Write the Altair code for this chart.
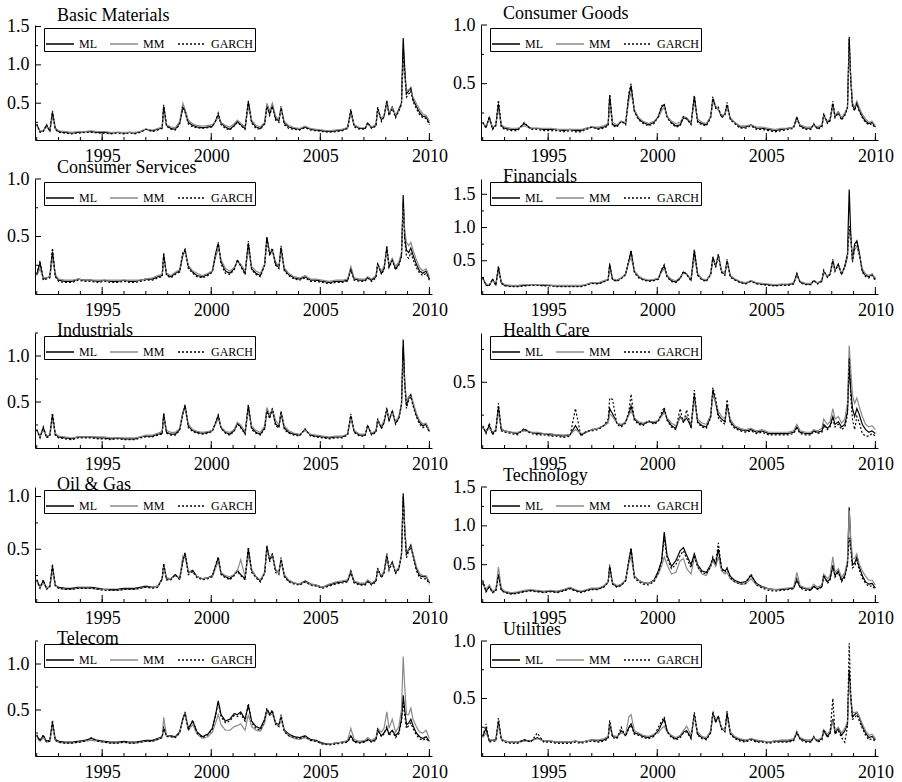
import altair as alt
import pandas as pd

# ---------------- data ----------------
T = [1992.0, 1992.15, 1992.3, 1992.45, 1992.6, 1992.72, 1992.85,
     1993.0, 1993.3, 1993.6, 1993.9,
     1994.2, 1994.5, 1994.8,
     1995.1, 1995.4, 1995.7,
     1996.0, 1996.25, 1996.5, 1996.75,
     1997.0, 1997.3, 1997.55, 1997.75, 1997.82, 1997.95,
     1998.15, 1998.35, 1998.55, 1998.7, 1998.8, 1998.95,
     1999.15, 1999.35, 1999.6, 1999.85,
     2000.05, 2000.2, 2000.32, 2000.45, 2000.65, 2000.85,
     2001.05, 2001.2, 2001.35, 2001.55, 2001.7, 2001.85,
     2002.05, 2002.25, 2002.45, 2002.55, 2002.68, 2002.8, 2002.95,
     2003.1, 2003.2, 2003.35, 2003.55, 2003.8,
     2004.05, 2004.3, 2004.55, 2004.8,
     2005.1, 2005.4, 2005.7,
     2006.0, 2006.25, 2006.4, 2006.55, 2006.8,
     2007.05, 2007.17, 2007.35, 2007.55, 2007.63, 2007.8, 2007.92,
     2008.05, 2008.15, 2008.3, 2008.45, 2008.6, 2008.72, 2008.8, 2008.87, 2008.95,
     2009.05, 2009.15, 2009.25, 2009.4, 2009.55, 2009.7, 2009.85,
     2010.0]

SERIES = ["ML", "MM", "GARCH"]
YEARS = list(range(1992, 2011))
X_MAJOR = [1995, 2000, 2005, 2010]
Y_MAJOR = [0.5, 1.0, 1.5]
Y_MINOR = [0.25, 0.75, 1.25]

BM_ML = [0.22, 0.13, 0.14, 0.21, 0.14, 0.38, 0.17, 0.13, 0.12, 0.11, 0.12,
         0.13, 0.13, 0.12, 0.12, 0.11, 0.12, 0.11, 0.12, 0.11, 0.13,
         0.16, 0.14, 0.16, 0.18, 0.46, 0.21, 0.17, 0.16, 0.24, 0.44, 0.40, 0.25,
         0.21, 0.19, 0.18, 0.19, 0.20, 0.27, 0.35, 0.24, 0.19, 0.16,
         0.21, 0.26, 0.22, 0.17, 0.52, 0.26, 0.19, 0.17, 0.24, 0.47, 0.36, 0.48, 0.30,
         0.27, 0.44, 0.24, 0.19, 0.17, 0.16, 0.19, 0.16, 0.15, 0.14, 0.13, 0.14,
         0.15, 0.18, 0.40, 0.21, 0.17, 0.17, 0.24, 0.18, 0.21, 0.43, 0.28, 0.33,
         0.52, 0.36, 0.45, 0.33, 0.42, 0.50, 1.35, 0.95, 0.62,
         0.66, 0.70, 0.55, 0.46, 0.38, 0.33, 0.32, 0.24]
BM_MM = [0.20, 0.14, 0.14, 0.19, 0.15, 0.32, 0.18, 0.14, 0.13, 0.12, 0.13,
         0.13, 0.14, 0.13, 0.13, 0.12, 0.12, 0.12, 0.12, 0.12, 0.13,
         0.16, 0.15, 0.17, 0.19, 0.38, 0.22, 0.19, 0.18, 0.26, 0.50, 0.42, 0.28,
         0.23, 0.21, 0.20, 0.21, 0.22, 0.26, 0.32, 0.25, 0.21, 0.19,
         0.23, 0.28, 0.24, 0.19, 0.45, 0.28, 0.21, 0.19, 0.25, 0.50, 0.40, 0.50, 0.33,
         0.29, 0.42, 0.26, 0.21, 0.18, 0.17, 0.20, 0.17, 0.16, 0.15, 0.14, 0.15,
         0.16, 0.18, 0.36, 0.22, 0.18, 0.18, 0.24, 0.19, 0.22, 0.40, 0.30, 0.34,
         0.48, 0.38, 0.44, 0.35, 0.40, 0.48, 1.05, 0.85, 0.66,
         0.68, 0.66, 0.58, 0.50, 0.42, 0.36, 0.34, 0.27]
BM_GA = [0.23, 0.12, 0.13, 0.22, 0.13, 0.40, 0.16, 0.12, 0.11, 0.10, 0.11,
         0.12, 0.12, 0.11, 0.11, 0.10, 0.11, 0.10, 0.11, 0.10, 0.12,
         0.16, 0.13, 0.15, 0.17, 0.48, 0.20, 0.16, 0.15, 0.22, 0.46, 0.38, 0.23,
         0.19, 0.18, 0.17, 0.18, 0.19, 0.27, 0.37, 0.22, 0.17, 0.15,
         0.20, 0.25, 0.21, 0.16, 0.53, 0.24, 0.17, 0.16, 0.23, 0.46, 0.34, 0.46, 0.28,
         0.25, 0.46, 0.22, 0.17, 0.16, 0.15, 0.18, 0.15, 0.14, 0.13, 0.12, 0.13,
         0.14, 0.17, 0.42, 0.19, 0.16, 0.16, 0.25, 0.17, 0.20, 0.45, 0.26, 0.32,
         0.54, 0.34, 0.43, 0.31, 0.40, 0.48, 1.22, 0.90, 0.58,
         0.62, 0.66, 0.52, 0.43, 0.35, 0.31, 0.30, 0.22]

CG_ML = [0.17, 0.13, 0.21, 0.12, 0.15, 0.33, 0.14, 0.12, 0.11, 0.11, 0.16,
         0.12, 0.12, 0.11, 0.11, 0.11, 0.10, 0.11, 0.10, 0.10, 0.12,
         0.13, 0.12, 0.13, 0.15, 0.40, 0.15, 0.14, 0.18, 0.16, 0.40, 0.48, 0.27,
         0.20, 0.17, 0.15, 0.17, 0.22, 0.30, 0.32, 0.22, 0.17, 0.14,
         0.15, 0.21, 0.20, 0.16, 0.39, 0.18, 0.16, 0.15, 0.22, 0.37, 0.30, 0.28, 0.22,
         0.24, 0.32, 0.20, 0.17, 0.13, 0.13, 0.15, 0.12, 0.12, 0.11, 0.10, 0.11,
         0.12, 0.13, 0.21, 0.14, 0.12, 0.12, 0.15, 0.12, 0.14, 0.23, 0.17, 0.19,
         0.33, 0.22, 0.26, 0.20, 0.24, 0.30, 0.88, 0.55, 0.32,
         0.28, 0.34, 0.28, 0.22, 0.18, 0.16, 0.17, 0.13]
CG_MM = [0.16, 0.14, 0.19, 0.13, 0.15, 0.28, 0.15, 0.13, 0.12, 0.12, 0.14,
         0.12, 0.12, 0.12, 0.12, 0.11, 0.11, 0.11, 0.11, 0.11, 0.12,
         0.13, 0.13, 0.14, 0.16, 0.33, 0.17, 0.15, 0.18, 0.17, 0.36, 0.42, 0.28,
         0.21, 0.18, 0.16, 0.18, 0.21, 0.27, 0.30, 0.22, 0.18, 0.16,
         0.17, 0.22, 0.21, 0.17, 0.34, 0.20, 0.17, 0.16, 0.22, 0.34, 0.31, 0.28, 0.23,
         0.24, 0.29, 0.21, 0.17, 0.14, 0.14, 0.15, 0.13, 0.13, 0.12, 0.11, 0.12,
         0.12, 0.13, 0.19, 0.15, 0.13, 0.13, 0.15, 0.13, 0.15, 0.22, 0.18, 0.20,
         0.30, 0.23, 0.26, 0.21, 0.25, 0.30, 0.78, 0.56, 0.34,
         0.30, 0.35, 0.30, 0.24, 0.20, 0.17, 0.18, 0.14]
CG_GA = [0.17, 0.12, 0.22, 0.11, 0.14, 0.36, 0.13, 0.11, 0.10, 0.10, 0.17,
         0.11, 0.11, 0.10, 0.10, 0.10, 0.09, 0.10, 0.09, 0.09, 0.11,
         0.13, 0.11, 0.12, 0.14, 0.41, 0.14, 0.13, 0.18, 0.15, 0.42, 0.50, 0.26,
         0.19, 0.16, 0.14, 0.16, 0.22, 0.31, 0.33, 0.21, 0.16, 0.13,
         0.14, 0.22, 0.20, 0.15, 0.40, 0.17, 0.15, 0.14, 0.21, 0.39, 0.29, 0.30, 0.21,
         0.23, 0.34, 0.19, 0.16, 0.12, 0.12, 0.14, 0.11, 0.11, 0.10, 0.09, 0.10,
         0.11, 0.12, 0.22, 0.13, 0.11, 0.11, 0.16, 0.11, 0.13, 0.25, 0.16, 0.18,
         0.35, 0.21, 0.25, 0.19, 0.23, 0.29, 0.90, 0.52, 0.30,
         0.27, 0.33, 0.27, 0.21, 0.17, 0.15, 0.16, 0.12]

CS_ML = [0.17, 0.27, 0.13, 0.14, 0.15, 0.37, 0.16, 0.12, 0.11, 0.11, 0.13,
         0.12, 0.12, 0.11, 0.12, 0.11, 0.11, 0.12, 0.11, 0.11, 0.12,
         0.13, 0.13, 0.15, 0.16, 0.34, 0.17, 0.15, 0.18, 0.20, 0.34, 0.38, 0.24,
         0.19, 0.16, 0.15, 0.17, 0.20, 0.35, 0.44, 0.28, 0.20, 0.18,
         0.22, 0.29, 0.25, 0.18, 0.44, 0.22, 0.18, 0.16, 0.26, 0.49, 0.35, 0.38, 0.26,
         0.23, 0.40, 0.21, 0.17, 0.14, 0.13, 0.15, 0.12, 0.12, 0.11, 0.10, 0.11,
         0.11, 0.12, 0.22, 0.13, 0.12, 0.12, 0.14, 0.12, 0.15, 0.26, 0.18, 0.22,
         0.40, 0.24, 0.30, 0.22, 0.26, 0.34, 0.86, 0.50, 0.38,
         0.36, 0.40, 0.34, 0.26, 0.20, 0.18, 0.20, 0.13]
CS_MM = [0.16, 0.22, 0.14, 0.14, 0.15, 0.31, 0.17, 0.13, 0.12, 0.12, 0.13,
         0.12, 0.12, 0.12, 0.12, 0.12, 0.12, 0.12, 0.12, 0.12, 0.12,
         0.13, 0.14, 0.16, 0.17, 0.29, 0.18, 0.16, 0.19, 0.21, 0.36, 0.36, 0.25,
         0.20, 0.18, 0.16, 0.18, 0.20, 0.32, 0.40, 0.30, 0.22, 0.20,
         0.23, 0.28, 0.26, 0.20, 0.38, 0.24, 0.20, 0.18, 0.26, 0.44, 0.37, 0.38, 0.28,
         0.24, 0.36, 0.23, 0.18, 0.15, 0.14, 0.16, 0.13, 0.13, 0.12, 0.11, 0.12,
         0.12, 0.13, 0.24, 0.14, 0.13, 0.13, 0.15, 0.13, 0.16, 0.25, 0.20, 0.24,
         0.36, 0.26, 0.31, 0.24, 0.28, 0.36, 0.75, 0.55, 0.45,
         0.42, 0.45, 0.38, 0.30, 0.23, 0.20, 0.22, 0.15]
CS_GA = [0.17, 0.29, 0.12, 0.13, 0.14, 0.40, 0.15, 0.11, 0.10, 0.10, 0.12,
         0.11, 0.11, 0.10, 0.11, 0.10, 0.10, 0.11, 0.10, 0.10, 0.11,
         0.12, 0.12, 0.14, 0.15, 0.36, 0.16, 0.14, 0.17, 0.19, 0.36, 0.39, 0.22,
         0.18, 0.15, 0.14, 0.16, 0.19, 0.34, 0.45, 0.26, 0.18, 0.17,
         0.21, 0.30, 0.24, 0.17, 0.46, 0.21, 0.17, 0.15, 0.25, 0.50, 0.33, 0.40, 0.25,
         0.22, 0.42, 0.20, 0.16, 0.13, 0.12, 0.14, 0.11, 0.11, 0.10, 0.09, 0.10,
         0.10, 0.11, 0.21, 0.12, 0.11, 0.11, 0.14, 0.11, 0.14, 0.27, 0.17, 0.21,
         0.42, 0.23, 0.29, 0.21, 0.25, 0.32, 0.80, 0.46, 0.33,
         0.31, 0.36, 0.30, 0.23, 0.18, 0.16, 0.18, 0.12]

FI_ML = [0.24, 0.14, 0.13, 0.22, 0.14, 0.40, 0.17, 0.13, 0.12, 0.12, 0.13,
         0.14, 0.14, 0.13, 0.13, 0.12, 0.12, 0.12, 0.12, 0.12, 0.14,
         0.17, 0.16, 0.19, 0.22, 0.44, 0.22, 0.20, 0.24, 0.30, 0.50, 0.64, 0.34,
         0.26, 0.22, 0.20, 0.21, 0.23, 0.36, 0.42, 0.27, 0.20, 0.18,
         0.24, 0.33, 0.30, 0.21, 0.65, 0.30, 0.22, 0.20, 0.30, 0.55, 0.42, 0.58, 0.34,
         0.30, 0.50, 0.27, 0.22, 0.18, 0.16, 0.20, 0.16, 0.15, 0.14, 0.13, 0.14,
         0.14, 0.16, 0.30, 0.18, 0.15, 0.15, 0.20, 0.16, 0.20, 0.34, 0.26, 0.30,
         0.50, 0.36, 0.45, 0.30, 0.42, 0.60, 1.57, 0.90, 0.50,
         0.75, 0.80, 0.65, 0.35, 0.28, 0.26, 0.30, 0.22]
FI_MM = [0.22, 0.15, 0.14, 0.20, 0.15, 0.34, 0.18, 0.14, 0.13, 0.13, 0.14,
         0.14, 0.14, 0.14, 0.13, 0.13, 0.13, 0.13, 0.13, 0.13, 0.14,
         0.17, 0.17, 0.20, 0.22, 0.38, 0.23, 0.21, 0.24, 0.30, 0.48, 0.55, 0.35,
         0.27, 0.23, 0.21, 0.22, 0.24, 0.33, 0.38, 0.28, 0.22, 0.20,
         0.25, 0.31, 0.30, 0.22, 0.55, 0.31, 0.23, 0.21, 0.30, 0.50, 0.44, 0.55, 0.35,
         0.31, 0.46, 0.28, 0.23, 0.19, 0.17, 0.20, 0.17, 0.16, 0.15, 0.14, 0.15,
         0.15, 0.17, 0.27, 0.19, 0.16, 0.16, 0.20, 0.17, 0.21, 0.32, 0.27, 0.31,
         0.45, 0.37, 0.42, 0.31, 0.40, 0.55, 0.95, 0.82, 0.50,
         0.66, 0.72, 0.60, 0.38, 0.30, 0.28, 0.30, 0.24]
FI_GA = [0.24, 0.13, 0.12, 0.23, 0.13, 0.42, 0.16, 0.12, 0.11, 0.11, 0.12,
         0.13, 0.13, 0.12, 0.12, 0.11, 0.11, 0.11, 0.11, 0.11, 0.13,
         0.16, 0.15, 0.18, 0.21, 0.46, 0.21, 0.19, 0.23, 0.29, 0.52, 0.66, 0.32,
         0.24, 0.21, 0.19, 0.20, 0.22, 0.37, 0.44, 0.25, 0.19, 0.17,
         0.23, 0.34, 0.29, 0.20, 0.67, 0.28, 0.21, 0.19, 0.29, 0.56, 0.40, 0.60, 0.32,
         0.28, 0.52, 0.25, 0.21, 0.17, 0.15, 0.19, 0.15, 0.14, 0.13, 0.12, 0.13,
         0.13, 0.15, 0.31, 0.17, 0.14, 0.14, 0.21, 0.15, 0.19, 0.36, 0.25, 0.29,
         0.52, 0.34, 0.44, 0.29, 0.41, 0.58, 1.02, 0.88, 0.48,
         0.72, 0.78, 0.62, 0.33, 0.26, 0.24, 0.28, 0.20]

IN_ML = [0.20, 0.12, 0.22, 0.12, 0.14, 0.36, 0.15, 0.12, 0.11, 0.10, 0.12,
         0.12, 0.12, 0.11, 0.11, 0.10, 0.11, 0.10, 0.10, 0.10, 0.12,
         0.13, 0.13, 0.15, 0.16, 0.37, 0.17, 0.15, 0.15, 0.20, 0.38, 0.46, 0.24,
         0.19, 0.17, 0.16, 0.17, 0.19, 0.27, 0.35, 0.22, 0.17, 0.15,
         0.19, 0.27, 0.23, 0.16, 0.46, 0.22, 0.17, 0.15, 0.22, 0.42, 0.34, 0.42, 0.26,
         0.23, 0.38, 0.22, 0.17, 0.15, 0.14, 0.20, 0.14, 0.13, 0.12, 0.11, 0.12,
         0.12, 0.15, 0.35, 0.18, 0.14, 0.14, 0.24, 0.15, 0.18, 0.30, 0.22, 0.28,
         0.42, 0.30, 0.40, 0.27, 0.33, 0.48, 1.18, 0.72, 0.46,
         0.55, 0.58, 0.48, 0.36, 0.28, 0.24, 0.26, 0.18]
IN_MM = [0.19, 0.13, 0.19, 0.13, 0.14, 0.31, 0.16, 0.13, 0.12, 0.11, 0.12,
         0.12, 0.12, 0.12, 0.12, 0.11, 0.11, 0.11, 0.11, 0.11, 0.12,
         0.14, 0.14, 0.16, 0.18, 0.32, 0.19, 0.17, 0.17, 0.21, 0.40, 0.42, 0.26,
         0.20, 0.18, 0.17, 0.18, 0.19, 0.26, 0.32, 0.23, 0.18, 0.17,
         0.20, 0.28, 0.25, 0.18, 0.40, 0.24, 0.19, 0.17, 0.24, 0.44, 0.36, 0.42, 0.30,
         0.25, 0.40, 0.24, 0.19, 0.16, 0.15, 0.19, 0.15, 0.14, 0.13, 0.12, 0.13,
         0.13, 0.15, 0.32, 0.19, 0.15, 0.15, 0.23, 0.16, 0.19, 0.29, 0.24, 0.30,
         0.40, 0.32, 0.38, 0.29, 0.34, 0.46, 0.95, 0.70, 0.50,
         0.56, 0.56, 0.50, 0.38, 0.30, 0.26, 0.27, 0.19]
IN_GA = [0.20, 0.11, 0.23, 0.11, 0.13, 0.38, 0.14, 0.11, 0.10, 0.09, 0.11,
         0.11, 0.11, 0.10, 0.10, 0.09, 0.10, 0.09, 0.09, 0.09, 0.11,
         0.12, 0.12, 0.14, 0.15, 0.38, 0.16, 0.14, 0.14, 0.19, 0.37, 0.47, 0.22,
         0.18, 0.16, 0.15, 0.16, 0.18, 0.28, 0.36, 0.21, 0.16, 0.14,
         0.18, 0.26, 0.22, 0.15, 0.47, 0.20, 0.16, 0.14, 0.21, 0.40, 0.32, 0.43, 0.24,
         0.22, 0.40, 0.20, 0.16, 0.14, 0.13, 0.21, 0.13, 0.12, 0.11, 0.10, 0.11,
         0.11, 0.14, 0.37, 0.17, 0.13, 0.13, 0.25, 0.14, 0.17, 0.32, 0.21, 0.27,
         0.44, 0.29, 0.41, 0.26, 0.32, 0.46, 1.10, 0.68, 0.43,
         0.52, 0.56, 0.46, 0.34, 0.26, 0.22, 0.24, 0.17]

HC_ML = [0.16, 0.12, 0.17, 0.11, 0.14, 0.31, 0.14, 0.13, 0.12, 0.11, 0.14,
         0.12, 0.11, 0.11, 0.10, 0.10, 0.09, 0.10, 0.17, 0.10, 0.12,
         0.14, 0.15, 0.17, 0.20, 0.30, 0.26, 0.19, 0.17, 0.20, 0.26, 0.32, 0.22,
         0.19, 0.18, 0.20, 0.19, 0.21, 0.25, 0.29, 0.22, 0.17, 0.15,
         0.24, 0.20, 0.23, 0.16, 0.40, 0.20, 0.17, 0.16, 0.24, 0.44, 0.34, 0.25, 0.22,
         0.20, 0.33, 0.20, 0.16, 0.14, 0.13, 0.14, 0.12, 0.13, 0.11, 0.11, 0.11,
         0.11, 0.12, 0.16, 0.12, 0.11, 0.11, 0.13, 0.12, 0.13, 0.18, 0.15, 0.17,
         0.24, 0.18, 0.20, 0.16, 0.18, 0.28, 0.62, 0.45, 0.30,
         0.24, 0.30, 0.26, 0.18, 0.14, 0.12, 0.13, 0.11]
HC_MM = [0.15, 0.13, 0.15, 0.12, 0.14, 0.27, 0.15, 0.13, 0.12, 0.12, 0.13,
         0.12, 0.12, 0.11, 0.11, 0.10, 0.10, 0.10, 0.14, 0.11, 0.12,
         0.14, 0.15, 0.17, 0.19, 0.26, 0.24, 0.19, 0.18, 0.20, 0.25, 0.28, 0.23,
         0.20, 0.19, 0.20, 0.20, 0.21, 0.24, 0.27, 0.23, 0.19, 0.17,
         0.23, 0.21, 0.24, 0.18, 0.36, 0.22, 0.19, 0.18, 0.25, 0.40, 0.35, 0.28, 0.24,
         0.22, 0.30, 0.22, 0.17, 0.15, 0.14, 0.15, 0.13, 0.14, 0.12, 0.12, 0.12,
         0.12, 0.13, 0.18, 0.13, 0.12, 0.12, 0.14, 0.13, 0.15, 0.22, 0.18, 0.20,
         0.30, 0.22, 0.24, 0.19, 0.22, 0.34, 0.78, 0.60, 0.40,
         0.34, 0.38, 0.32, 0.24, 0.18, 0.16, 0.17, 0.14]
HC_GA = [0.17, 0.11, 0.19, 0.10, 0.13, 0.34, 0.13, 0.12, 0.11, 0.10, 0.15,
         0.11, 0.10, 0.10, 0.09, 0.09, 0.08, 0.09, 0.30, 0.09, 0.13,
         0.13, 0.14, 0.17, 0.22, 0.38, 0.37, 0.18, 0.16, 0.19, 0.28, 0.41, 0.21,
         0.18, 0.17, 0.21, 0.18, 0.20, 0.27, 0.31, 0.21, 0.16, 0.14,
         0.30, 0.19, 0.29, 0.15, 0.44, 0.19, 0.16, 0.15, 0.23, 0.46, 0.38, 0.23, 0.20,
         0.18, 0.37, 0.19, 0.15, 0.13, 0.12, 0.13, 0.11, 0.12, 0.10, 0.10, 0.10,
         0.10, 0.11, 0.15, 0.11, 0.10, 0.10, 0.13, 0.11, 0.12, 0.17, 0.14, 0.16,
         0.22, 0.16, 0.18, 0.14, 0.16, 0.25, 0.68, 0.40, 0.22,
         0.14, 0.24, 0.20, 0.11, 0.09, 0.09, 0.11, 0.09]

OG_ML = [0.21, 0.14, 0.20, 0.13, 0.15, 0.33, 0.16, 0.14, 0.13, 0.13, 0.14,
         0.14, 0.14, 0.13, 0.12, 0.12, 0.12, 0.13, 0.13, 0.13, 0.14,
         0.15, 0.14, 0.15, 0.22, 0.35, 0.22, 0.22, 0.26, 0.22, 0.40, 0.46, 0.28,
         0.30, 0.24, 0.22, 0.23, 0.25, 0.34, 0.42, 0.27, 0.24, 0.22,
         0.26, 0.30, 0.26, 0.22, 0.50, 0.30, 0.24, 0.20, 0.28, 0.52, 0.40, 0.45, 0.30,
         0.28, 0.40, 0.25, 0.20, 0.18, 0.17, 0.20, 0.17, 0.16, 0.14, 0.16, 0.18,
         0.19, 0.20, 0.28, 0.19, 0.17, 0.17, 0.20, 0.17, 0.20, 0.31, 0.24, 0.28,
         0.44, 0.32, 0.38, 0.28, 0.32, 0.45, 1.03, 0.70, 0.45,
         0.50, 0.54, 0.45, 0.32, 0.25, 0.24, 0.24, 0.18]
OG_MM = [0.19, 0.14, 0.18, 0.13, 0.15, 0.29, 0.16, 0.13, 0.12, 0.12, 0.13,
         0.13, 0.13, 0.12, 0.12, 0.11, 0.11, 0.12, 0.12, 0.12, 0.13,
         0.14, 0.14, 0.15, 0.21, 0.33, 0.23, 0.22, 0.25, 0.22, 0.44, 0.42, 0.29,
         0.28, 0.24, 0.22, 0.23, 0.24, 0.32, 0.38, 0.28, 0.25, 0.24,
         0.26, 0.30, 0.40, 0.24, 0.44, 0.31, 0.24, 0.21, 0.28, 0.48, 0.42, 0.44, 0.31,
         0.28, 0.38, 0.26, 0.21, 0.18, 0.17, 0.19, 0.17, 0.16, 0.14, 0.17, 0.19,
         0.20, 0.21, 0.30, 0.20, 0.18, 0.18, 0.21, 0.18, 0.21, 0.30, 0.25, 0.29,
         0.40, 0.33, 0.37, 0.29, 0.33, 0.44, 0.90, 0.72, 0.48,
         0.50, 0.52, 0.46, 0.34, 0.27, 0.25, 0.25, 0.19]
OG_GA = [0.21, 0.13, 0.21, 0.12, 0.14, 0.36, 0.15, 0.13, 0.12, 0.12, 0.13,
         0.13, 0.13, 0.12, 0.11, 0.11, 0.11, 0.12, 0.12, 0.12, 0.13,
         0.14, 0.13, 0.14, 0.22, 0.37, 0.21, 0.21, 0.26, 0.21, 0.38, 0.47, 0.26,
         0.29, 0.23, 0.21, 0.22, 0.24, 0.35, 0.43, 0.26, 0.23, 0.21,
         0.25, 0.29, 0.25, 0.21, 0.52, 0.28, 0.23, 0.19, 0.27, 0.54, 0.38, 0.46, 0.28,
         0.26, 0.42, 0.24, 0.19, 0.17, 0.16, 0.19, 0.16, 0.15, 0.13, 0.15, 0.17,
         0.18, 0.19, 0.29, 0.18, 0.16, 0.16, 0.19, 0.16, 0.19, 0.32, 0.23, 0.27,
         0.46, 0.30, 0.37, 0.27, 0.31, 0.44, 1.00, 0.66, 0.42,
         0.48, 0.52, 0.43, 0.30, 0.23, 0.22, 0.22, 0.17]

TE_ML = [0.28, 0.16, 0.22, 0.15, 0.17, 0.38, 0.18, 0.15, 0.13, 0.14, 0.16,
         0.17, 0.16, 0.15, 0.16, 0.15, 0.17, 0.20, 0.17, 0.15, 0.17,
         0.19, 0.19, 0.22, 0.28, 0.48, 0.26, 0.22, 0.24, 0.30, 0.55, 0.70, 0.35,
         0.30, 0.27, 0.26, 0.30, 0.42, 0.55, 0.92, 0.62, 0.48, 0.55,
         0.68, 0.72, 0.62, 0.50, 0.64, 0.50, 0.42, 0.40, 0.50, 0.58, 0.50, 0.70, 0.45,
         0.42, 0.45, 0.35, 0.30, 0.27, 0.28, 0.36, 0.26, 0.22, 0.19, 0.18, 0.18,
         0.19, 0.20, 0.30, 0.21, 0.19, 0.18, 0.22, 0.19, 0.22, 0.35, 0.28, 0.32,
         0.48, 0.36, 0.42, 0.30, 0.36, 0.52, 1.24, 0.78, 0.50,
         0.52, 0.60, 0.48, 0.36, 0.28, 0.25, 0.26, 0.20]
TE_MM = [0.26, 0.18, 0.24, 0.16, 0.18, 0.47, 0.20, 0.16, 0.14, 0.15, 0.17,
         0.18, 0.17, 0.16, 0.17, 0.16, 0.18, 0.21, 0.18, 0.16, 0.18,
         0.20, 0.20, 0.23, 0.28, 0.42, 0.27, 0.23, 0.25, 0.30, 0.52, 0.60, 0.36,
         0.30, 0.27, 0.26, 0.29, 0.38, 0.48, 0.60, 0.50, 0.38, 0.40,
         0.55, 0.58, 0.45, 0.38, 0.60, 0.48, 0.38, 0.36, 0.48, 0.55, 0.48, 0.60, 0.42,
         0.38, 0.40, 0.32, 0.28, 0.25, 0.25, 0.32, 0.24, 0.21, 0.19, 0.18, 0.19,
         0.20, 0.21, 0.40, 0.23, 0.20, 0.20, 0.25, 0.21, 0.24, 0.38, 0.32, 0.36,
         0.60, 0.40, 0.45, 0.34, 0.40, 0.55, 1.20, 0.85, 0.58,
         0.58, 0.64, 0.52, 0.42, 0.35, 0.30, 0.30, 0.24]
TE_GA = [0.30, 0.15, 0.21, 0.14, 0.16, 0.36, 0.17, 0.14, 0.12, 0.13, 0.15,
         0.16, 0.15, 0.14, 0.15, 0.14, 0.16, 0.19, 0.16, 0.14, 0.16,
         0.18, 0.18, 0.21, 0.27, 0.50, 0.25, 0.21, 0.23, 0.29, 0.56, 0.72, 0.33,
         0.28, 0.25, 0.24, 0.28, 0.40, 0.54, 0.85, 0.58, 0.45, 0.50,
         0.62, 0.68, 0.58, 0.46, 0.62, 0.47, 0.40, 0.38, 0.48, 0.60, 0.52, 0.78, 0.44,
         0.40, 0.46, 0.33, 0.28, 0.25, 0.26, 0.38, 0.24, 0.20, 0.17, 0.16, 0.17,
         0.18, 0.19, 0.32, 0.20, 0.17, 0.17, 0.23, 0.18, 0.21, 0.37, 0.26, 0.30,
         0.50, 0.34, 0.40, 0.28, 0.34, 0.50, 0.85, 0.70, 0.46,
         0.48, 0.56, 0.44, 0.33, 0.26, 0.22, 0.23, 0.18]

TL_ML = [0.22, 0.17, 0.22, 0.16, 0.17, 0.36, 0.18, 0.16, 0.15, 0.15, 0.16,
         0.17, 0.19, 0.17, 0.16, 0.15, 0.15, 0.16, 0.15, 0.15, 0.16,
         0.17, 0.17, 0.19, 0.21, 0.30, 0.22, 0.22, 0.21, 0.26, 0.40, 0.46, 0.30,
         0.38, 0.26, 0.21, 0.24, 0.30, 0.45, 0.60, 0.45, 0.38, 0.40,
         0.46, 0.45, 0.48, 0.40, 0.55, 0.38, 0.32, 0.30, 0.40, 0.50, 0.46, 0.48, 0.36,
         0.34, 0.42, 0.28, 0.24, 0.21, 0.20, 0.22, 0.18, 0.17, 0.14, 0.13, 0.14,
         0.15, 0.16, 0.22, 0.16, 0.15, 0.16, 0.18, 0.16, 0.18, 0.28, 0.22, 0.25,
         0.30, 0.24, 0.28, 0.22, 0.26, 0.40, 0.66, 0.50, 0.34,
         0.36, 0.40, 0.33, 0.25, 0.21, 0.19, 0.21, 0.16]
TL_MM = [0.20, 0.16, 0.20, 0.15, 0.16, 0.32, 0.17, 0.15, 0.14, 0.14, 0.15,
         0.16, 0.17, 0.16, 0.15, 0.14, 0.14, 0.15, 0.14, 0.14, 0.15,
         0.16, 0.16, 0.18, 0.20, 0.42, 0.22, 0.21, 0.20, 0.25, 0.42, 0.44, 0.28,
         0.34, 0.24, 0.19, 0.21, 0.26, 0.36, 0.45, 0.34, 0.28, 0.28,
         0.32, 0.33, 0.35, 0.28, 0.45, 0.32, 0.28, 0.27, 0.36, 0.48, 0.44, 0.46, 0.35,
         0.32, 0.40, 0.27, 0.22, 0.19, 0.18, 0.20, 0.17, 0.16, 0.13, 0.13, 0.14,
         0.15, 0.17, 0.30, 0.18, 0.16, 0.17, 0.20, 0.17, 0.20, 0.30, 0.26, 0.30,
         0.48, 0.30, 0.40, 0.26, 0.32, 0.50, 1.08, 0.75, 0.45,
         0.45, 0.52, 0.40, 0.32, 0.26, 0.25, 0.28, 0.19]
TL_GA = [0.23, 0.16, 0.23, 0.15, 0.16, 0.39, 0.17, 0.15, 0.14, 0.14, 0.15,
         0.16, 0.20, 0.16, 0.15, 0.14, 0.14, 0.15, 0.14, 0.14, 0.15,
         0.16, 0.16, 0.18, 0.20, 0.32, 0.21, 0.21, 0.20, 0.25, 0.41, 0.48, 0.28,
         0.39, 0.25, 0.20, 0.23, 0.29, 0.44, 0.58, 0.43, 0.36, 0.38,
         0.44, 0.43, 0.46, 0.38, 0.57, 0.36, 0.30, 0.28, 0.39, 0.52, 0.45, 0.50, 0.34,
         0.32, 0.45, 0.26, 0.22, 0.20, 0.19, 0.21, 0.17, 0.16, 0.13, 0.12, 0.13,
         0.14, 0.15, 0.21, 0.15, 0.14, 0.15, 0.17, 0.15, 0.17, 0.29, 0.21, 0.24,
         0.32, 0.22, 0.27, 0.20, 0.24, 0.38, 0.58, 0.45, 0.30,
         0.33, 0.36, 0.30, 0.23, 0.19, 0.17, 0.19, 0.15]

UT_ML = [0.17, 0.24, 0.13, 0.14, 0.14, 0.30, 0.15, 0.13, 0.12, 0.12, 0.14,
         0.13, 0.16, 0.13, 0.13, 0.12, 0.12, 0.12, 0.13, 0.12, 0.13,
         0.14, 0.13, 0.14, 0.16, 0.28, 0.17, 0.16, 0.22, 0.18, 0.25, 0.28, 0.20,
         0.19, 0.17, 0.16, 0.18, 0.22, 0.28, 0.32, 0.22, 0.17, 0.15,
         0.17, 0.21, 0.22, 0.16, 0.36, 0.19, 0.16, 0.15, 0.21, 0.37, 0.30, 0.34, 0.24,
         0.22, 0.37, 0.20, 0.16, 0.14, 0.13, 0.15, 0.13, 0.13, 0.12, 0.13, 0.13,
         0.13, 0.14, 0.20, 0.15, 0.13, 0.13, 0.16, 0.13, 0.15, 0.22, 0.17, 0.20,
         0.32, 0.20, 0.24, 0.18, 0.22, 0.28, 0.75, 0.50, 0.34,
         0.36, 0.38, 0.34, 0.26, 0.20, 0.16, 0.17, 0.14]
UT_MM = [0.16, 0.20, 0.14, 0.14, 0.14, 0.27, 0.15, 0.13, 0.12, 0.12, 0.13,
         0.13, 0.15, 0.13, 0.13, 0.12, 0.12, 0.12, 0.13, 0.12, 0.13,
         0.14, 0.14, 0.15, 0.17, 0.30, 0.18, 0.17, 0.20, 0.19, 0.34, 0.36, 0.22,
         0.20, 0.18, 0.17, 0.19, 0.20, 0.24, 0.26, 0.21, 0.18, 0.16,
         0.18, 0.22, 0.26, 0.18, 0.34, 0.21, 0.17, 0.16, 0.22, 0.35, 0.33, 0.32, 0.25,
         0.22, 0.33, 0.21, 0.17, 0.15, 0.14, 0.15, 0.14, 0.13, 0.12, 0.13, 0.14,
         0.14, 0.15, 0.21, 0.16, 0.14, 0.14, 0.16, 0.14, 0.16, 0.23, 0.19, 0.22,
         0.30, 0.22, 0.25, 0.20, 0.24, 0.30, 0.65, 0.52, 0.38,
         0.38, 0.38, 0.35, 0.28, 0.22, 0.18, 0.19, 0.15]
UT_GA = [0.17, 0.28, 0.12, 0.13, 0.13, 0.33, 0.14, 0.12, 0.11, 0.11, 0.14,
         0.12, 0.20, 0.12, 0.12, 0.11, 0.11, 0.11, 0.12, 0.11, 0.12,
         0.13, 0.12, 0.13, 0.15, 0.31, 0.16, 0.15, 0.25, 0.17, 0.24, 0.27, 0.19,
         0.18, 0.16, 0.15, 0.17, 0.25, 0.30, 0.34, 0.21, 0.16, 0.14,
         0.16, 0.20, 0.21, 0.15, 0.38, 0.18, 0.15, 0.14, 0.20, 0.39, 0.29, 0.35, 0.23,
         0.21, 0.39, 0.19, 0.15, 0.13, 0.12, 0.14, 0.12, 0.12, 0.11, 0.12, 0.12,
         0.12, 0.13, 0.21, 0.14, 0.12, 0.12, 0.17, 0.12, 0.14, 0.23, 0.16, 0.19,
         0.50, 0.19, 0.22, 0.16, 0.12, 0.26, 0.98, 0.55, 0.32,
         0.33, 0.36, 0.31, 0.24, 0.18, 0.14, 0.15, 0.13]

PANELS = [
    ("Basic Materials", BM_ML, BM_MM, BM_GA),
    ("Consumer Goods", CG_ML, CG_MM, CG_GA),
    ("Consumer Services", CS_ML, CS_MM, CS_GA),
    ("Financials", FI_ML, FI_MM, FI_GA),
    ("Industrials", IN_ML, IN_MM, IN_GA),
    ("Health Care", HC_ML, HC_MM, HC_GA),
    ("Oil & Gas", OG_ML, OG_MM, OG_GA),
    ("Technology", TE_ML, TE_MM, TE_GA),
    ("Telecom", TL_ML, TL_MM, TL_GA),
    ("Utilities", UT_ML, UT_MM, UT_GA),
]

# ---------------- layout / style ----------------
Y_DOMAIN = {
    "Basic Materials": [0.02, 1.52], "Consumer Goods": [0.02, 1.0],
    "Consumer Services": [0.0, 1.0], "Financials": [0.0, 1.73],
    "Industrials": [0.0, 1.25], "Health Care": [0.0, 0.875],
    "Oil & Gas": [0.0, 1.09], "Technology": [0.02, 1.5],
    "Telecom": [0.0, 1.25], "Utilities": [0.0, 1.0],
}
X_DOMAIN = [1991.92, 2010.12]
W, H = 397, 115
FONT = "Liberation Serif"
COLORS = ["#000000", "#8a8a8a", "#000000"]
DASHES = [[1, 0], [1, 0], [2, 2]]

for name, a, b, c in PANELS:
    assert len(a) == len(T) and len(b) == len(T) and len(c) == len(T), (name, len(a), len(b), len(c))


def panel(name, ml, mm, ga):
    n = len(T)
    df = pd.DataFrame({"t": T * 3, "v": ml + mm + ga,
                       "s": ["ML"] * n + ["MM"] * n + ["GARCH"] * n})
    ydom = Y_DOMAIN[name]
    xs = alt.Scale(domain=X_DOMAIN, nice=False, zero=False)
    ys = alt.Scale(domain=ydom, nice=False, zero=False)
    major = [v for v in Y_MAJOR if ydom[0] <= v <= ydom[1]]
    minor = [v for v in Y_MINOR if ydom[0] <= v <= ydom[1]]
    xaxis = alt.Axis(values=X_MAJOR, format="d", title=None, labelPadding=7, labelFlush=False)
    yaxis = alt.Axis(values=major, format=".1f", title=None, labelPadding=6)
    leg = alt.Legend(title=None, orient="none", legendX=9, legendY=3,
                     direction="horizontal", symbolType="stroke", symbolSize=784,
                     symbolStrokeWidth=1.3, labelFont=FONT, labelFontSize=12,
                     labelColor="black", strokeColor="black", fillColor="white",
                     padding=1, columnPadding=10, labelOffset=4, cornerRadius=0)
    lines = alt.Chart(df).mark_line(strokeWidth=1.2, clip=True).encode(
        x=alt.X("t:Q", scale=xs, axis=xaxis),
        y=alt.Y("v:Q", scale=ys, axis=yaxis),
        color=alt.Color("s:N", scale=alt.Scale(domain=SERIES, range=COLORS), legend=leg),
        strokeDash=alt.StrokeDash("s:N", scale=alt.Scale(domain=SERIES, range=DASHES), legend=leg),
    )
    xt_minor = alt.Chart(pd.DataFrame({"t": YEARS})).mark_rule(color="black", strokeWidth=1).encode(
        x=alt.X("t:Q", scale=xs, axis=xaxis), y=alt.value(H), y2=alt.value(H - 3))
    xt_major = alt.Chart(pd.DataFrame({"t": X_MAJOR})).mark_rule(color="black", strokeWidth=1).encode(
        x=alt.X("t:Q", scale=xs, axis=xaxis), y=alt.value(H), y2=alt.value(H - 7))
    yt_minor = alt.Chart(pd.DataFrame({"v": minor})).mark_rule(color="black", strokeWidth=1).encode(
        y=alt.Y("v:Q", scale=ys, axis=yaxis), x=alt.value(0), x2=alt.value(3))
    yt_major = alt.Chart(pd.DataFrame({"v": major})).mark_rule(color="black", strokeWidth=1).encode(
        y=alt.Y("v:Q", scale=ys, axis=yaxis), x=alt.value(0), x2=alt.value(6))
    return alt.layer(lines, xt_minor, xt_major, yt_minor, yt_major).properties(
        width=W, height=H,
        title=alt.TitleParams(text=name, anchor="start", frame="group", dx=22, offset=-7,
                              font=FONT, fontSize=18, fontWeight="normal", color="black"),
    )


charts = [panel(*p) for p in PANELS]
chart = alt.concat(*charts, columns=2, spacing={"row": 39, "column": 49}, bounds="flush").resolve_scale(
    x="independent", y="independent", color="independent", strokeDash="independent"
).resolve_axis(x="independent", y="independent").resolve_legend(
    color="independent", strokeDash="independent"
).properties(
    padding={"left": 6, "top": 5, "right": 0, "bottom": 0}, background="white"
).configure_view(stroke=None).configure_axis(
    domainColor="black", domainWidth=1, ticks=False, grid=False,
    labelFont=FONT, labelFontSize=18, labelColor="black",
)

chart.save("out.html", embed_options={"renderer": "svg", "actions": False})
